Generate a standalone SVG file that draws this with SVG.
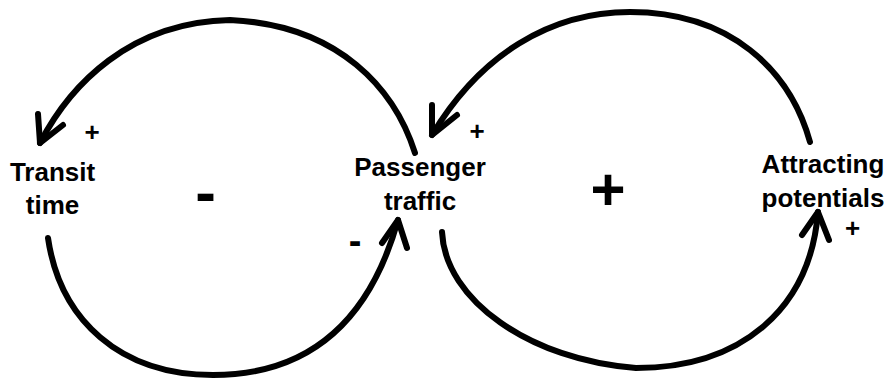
<svg xmlns="http://www.w3.org/2000/svg" width="886" height="379" viewBox="0 0 886 379">
  <style>
    .lbl { font-family: "Liberation Sans", Arial, sans-serif; font-weight: bold; font-size: 26px; fill: #000; text-anchor: middle; }
    .sign { font-family: "Liberation Sans", Arial, sans-serif; font-weight: bold; fill: #000; text-anchor: middle; }
    .link { fill: none; stroke: #000; stroke-width: 6; stroke-linecap: round; stroke-linejoin: round; }
  </style>
  <rect width="886" height="379" fill="#fff"/>
  <g id="connectors">
    <g id="c-passenger-transit">
      <path class="link" d="M415,153 C395,90 340,25 230,20 C130,22 70,85 40,143"/>
      <path class="link" d="M38,114 L40,143 L63,125"/>
    </g>
    <g id="c-transit-passenger">
      <path class="link" d="M48,238 C60,320 120,375 213,375 C310,375 370,320 398,220"/>
      <path class="link" d="M382,243 L398,220 L407,248"/>
    </g>
    <g id="c-attracting-passenger">
      <path class="link" d="M810,142 C790,70 730,12 630,12 C550,12 480,55 432,135"/>
      <path class="link" d="M432,105 L432,135 L457,115"/>
    </g>
    <g id="c-passenger-attracting">
      <path class="link" d="M442,232 C445,300 530,360 636,368 C740,368 810,310 818,212"/>
      <path class="link" d="M802,235 L818,212 L829,240"/>
    </g>
  </g>
  <g id="node-transit">
    <text class="lbl" x="52.5" y="181">Transit</text>
    <text class="lbl" x="52.5" y="214">time</text>
  </g>
  <g id="node-passenger">
    <text class="lbl" x="420" y="176">Passenger</text>
    <text class="lbl" x="420" y="210">traffic</text>
  </g>
  <g id="node-attracting">
    <text class="lbl" x="823" y="173">Attracting</text>
    <text class="lbl" x="823" y="207">potentials</text>
  </g>
  <g id="signs">
    <text class="sign" x="92" y="141" font-size="26">+</text>
    <text class="sign" x="477" y="140" font-size="26">+</text>
    <text class="sign" x="852.5" y="237" font-size="26">+</text>
    <text class="sign" x="355" y="253.5" font-size="38">-</text>
    <text class="sign" x="205.5" y="213" font-size="62">-</text>
    <text class="sign" x="608" y="210" font-size="60">+</text>
  </g>
</svg>
